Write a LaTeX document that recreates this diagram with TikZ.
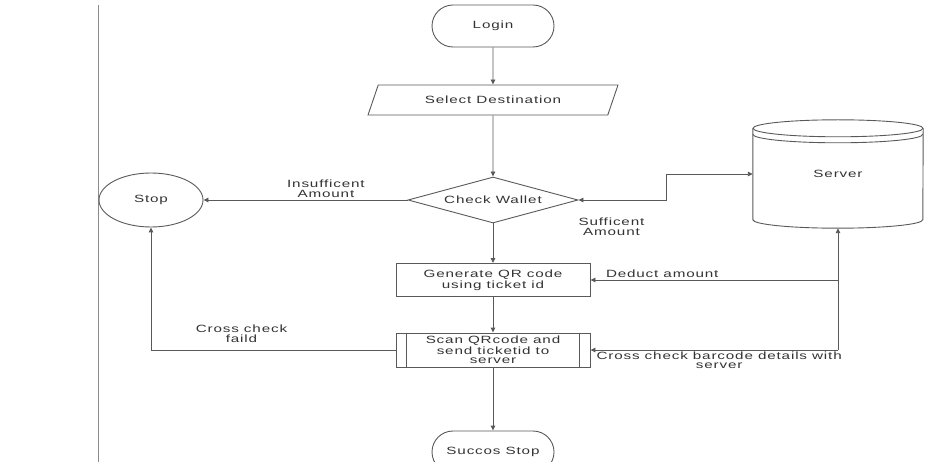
\documentclass[tikz,border=0pt]{standalone}
\usepackage{fontspec}
\newfontfamily\flowfont[FakeStretch=1.45,LetterSpace=8]{Liberation Sans}
\usetikzlibrary{shapes.geometric,shapes.misc,arrows.meta}
\tikzset{
  >={Triangle[length=5pt,width=4.5pt]},
  flowtext/.style={font=\flowfont\fontsize{10.5}{9.5}\selectfont, text=black!80, align=center},
  flow/.style={flowtext, draw=black!65, line width=0.9pt, inner sep=0pt},
  terminal/.style={flow, rounded rectangle, minimum width=122pt, minimum height=42pt},
  ioshape/.style={flow, trapezium, trapezium left angle=37, trapezium right angle=143,
    trapezium stretches body, minimum width=250pt, minimum height=30pt},
  decision/.style={flow, diamond, aspect=3.7, minimum width=170pt, minimum height=46pt},
  process/.style={flow, rectangle, minimum width=194pt, minimum height=33pt},
  stopshape/.style={flow, ellipse, minimum width=104pt, minimum height=54pt},
  link/.style={draw=black!65, line width=0.9pt, ->},
  lbl/.style={flowtext, inner sep=2pt}
}
\begin{document}
\begin{tikzpicture}[x=1pt, y=-1pt]
      \useasboundingbox (0,0) rectangle (934,462);
      \clip (0,0) rectangle (934,462);
      % --- left margin rule ---
      \draw[black!45, line width=0.9pt] (98,5) -- (98,462);
      % --- main column ---
      \node[terminal] (login) at (493,26) {Login};
      \node[ioshape] (dest) at (493,100) {Select Destination};
      \node[decision] (wallet) at (493,200) {Check Wallet};
      \node[process] (gen) at (493,280) {Generate QR code\\using ticket id};
      \node[process, minimum height=34pt] (scan) at (493,350) {Scan QRcode and\\send ticketid to\\server};
      \draw[flow] ([xshift=11pt]scan.north west) -- ([xshift=11pt]scan.south west);
      \draw[flow] ([xshift=-11pt]scan.north east) -- ([xshift=-11pt]scan.south east);
      \node[terminal] (done) at (493,452) {Succos Stop};
      % --- stop ---
      \node[stopshape] (stop) at (151,200) {Stop};
      % --- server (database) ---
      \node[flowtext, inner sep=0pt, minimum width=170pt, minimum height=108pt] (server) at (838,174) {Server};
      \draw[flow] ([yshift=-8.5pt]server.north) ellipse [x radius=85pt, y radius=8.5pt];
      \draw[flow] ([yshift=-8.5pt]server.north west) -- ([yshift=8.5pt]server.south west)
        arc[start angle=180, end angle=360, x radius=85pt, y radius=8.5pt]
        -- ([yshift=-8.5pt]server.north east);
      \draw[flow] ([yshift=-14.5pt]server.north west)
        arc[start angle=180, end angle=360, x radius=85pt, y radius=8.5pt];
      % --- connectors ---
      \draw[link] (login) -- (dest);
      \draw[link] (dest) -- (wallet);
      \draw[link] (wallet) -- (gen);
      \draw[link] (gen) -- (scan);
      \draw[link] (scan) -- (done);
      \draw[link] (wallet.west) -- node[lbl, above, pos=0.4] (insuf) {Insufficent\\Amount} (stop.east);
      \draw[link, <->] (wallet.east) -- ++(88pt,0pt) |- (server.west);
      \node[lbl, below right, inner sep=0pt] (suff) at ([xshift=0pt,yshift=-18pt]wallet.east) {Sufficent\\Amount};
      \coordinate (ded) at (server.south |- gen.east);
      \coordinate (chk) at (server.south |- scan.east);
      \draw[link] (chk) -- (server.south);
      \draw[link] (ded) -- node[lbl, above, pos=0.71] (deduct) {Deduct amount} (gen.east);
      \draw[link] (chk) -- node[lbl, below, pos=0.48, inner sep=1pt] (cross) {Cross check barcode details with\\server} (scan.east);
      \draw[link] (scan.west) -| node[lbl, above, pos=0.315, inner sep=7pt] (fail) {Cross check\\faild} (stop.south);
    \end{tikzpicture}
\end{document}
